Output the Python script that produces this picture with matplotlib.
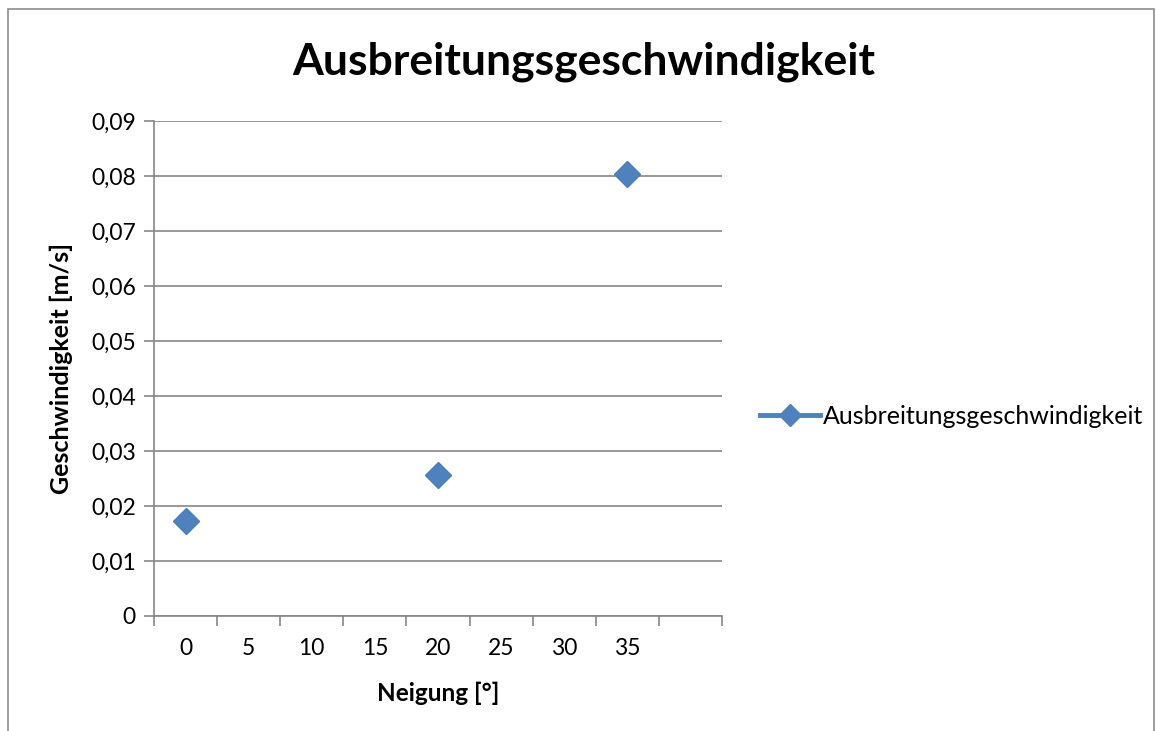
import matplotlib
matplotlib.use("Agg")
import matplotlib.pyplot as plt
from matplotlib.lines import Line2D
from matplotlib.patches import Rectangle

categories = ["0", "5", "10", "15", "20", "25", "30", "35", ""]
point_labels = ["0", "20", "35"]
speeds = [0.01727, 0.02564, 0.08036]
series_name = "Ausbreitungsgeschwindigkeit"
yticks = [0, 0.01, 0.02, 0.03, 0.04, 0.05, 0.06, 0.07, 0.08, 0.09]

W, H = 1156, 731
fig = plt.figure(figsize=(W / 100, H / 100), dpi=100)
FONT = ["Lato", "DejaVu Sans"]
plt.rcParams['font.family'] = FONT

# outer frame
fig.patches.append(Rectangle((8 / W, -0.01), (1154 - 8) / W, (731 - 9) / H + 0.01,
                             transform=fig.transFigure, fill=False,
                             edgecolor="#8c8c8c", linewidth=1.2))

ax = fig.add_axes([154 / W, (H - 616) / H, (722 - 154) / W, (616 - 121) / H])
grey = "#868686"
ax.set_xlim(-0.5, len(categories) - 0.5)
ax.set_ylim(0, 0.09)
ax.set_yticks(yticks)
ax.set_yticklabels([("%.2f" % v).replace(".", ",") if v else "0" for v in yticks])
ax.yaxis.grid(True, color=grey, linewidth=1.2)
ax.set_axisbelow(True)
for s in ["top", "right"]:
    ax.spines[s].set_visible(False)
for s in ["left", "bottom"]:
    ax.spines[s].set_color(grey)
    ax.spines[s].set_linewidth(1.2)

# category tick marks at boundaries, labels in centers
ax.set_xticks([i - 0.5 for i in range(len(categories) + 1)])
ax.set_xticklabels([])
ax.set_xticks(range(len(categories)), minor=True)
ax.set_xticklabels(categories, minor=True)
ax.tick_params(axis="x", which="minor", length=0, pad=16, labelsize=16.5)
ax.tick_params(axis="x", which="major", length=7, color=grey, width=1.2)
ax.tick_params(axis="y", length=7, color=grey, width=1.2, labelsize=16.5, pad=6)

xs = [categories.index(l) for l in point_labels]
ax.plot(xs, speeds, linestyle="none", marker="D", markersize=13,
        color="#4F81BD", markeredgecolor="#4A7EBB", clip_on=False)

ax.set_xlabel("Neigung [°]", fontsize=17.5, fontweight="bold")
ax.set_ylabel("Geschwindigkeit [m/s]", fontsize=18, fontweight="bold")
ax.xaxis.set_label_coords(0.5, -(682 - 616) / (616 - 121))
ax.yaxis.set_label_coords((73 - 154) / (722 - 154), 0.5)

fig.text(584 / W, 1 - 62 / H, "Ausbreitungsgeschwindigkeit", ha="center", va="center",
         fontsize=32, fontweight="bold")

handle = Line2D([], [], color="#4F81BD", linewidth=3.5, marker="D", markersize=11)
fig.legend([handle], [series_name], loc="center left",
           bbox_to_anchor=(750 / W, 1 - 416 / H), frameon=False, fontsize=18,
           handlelength=2.4, handletextpad=0.1, borderaxespad=0)

fig.savefig("out.png", dpi=100)
